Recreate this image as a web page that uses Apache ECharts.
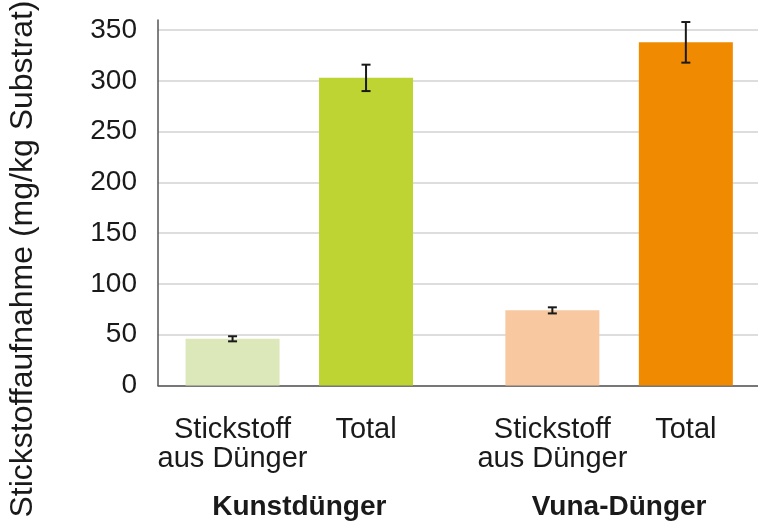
<!DOCTYPE html>
<html>
<head>
<meta charset="utf-8">
<script src="https://cdn.jsdelivr.net/npm/echarts@6/dist/echarts.min.js"></script>
<style>
  html, body { margin: 0; padding: 0; background: #fff; }
  #chart { width: 758px; height: 523px; }
</style>
</head>
<body>
<div id="chart"></div>
<script>
// Daten
const groups = ['Kunstdünger', 'Vuna-Dünger'];
const seriesNames = ['Stickstoff\naus Dünger', 'Total'];
const fromFertilizer = [46, 74];
const fromFertilizerErr = [2.5, 3];
const total = [303, 338];
const totalErr = [13, 20];
const yMax = 360;
const yStep = 50;

const barColors = [
  ['#dce8ba', '#bdd432'],
  ['#f8c8a0', '#f08a00']
];

const FONT = 'Liberation Sans, Arial, sans-serif';
const TEXT = '#1a1a1a';
const BAR_W = 94;
const BAR_GAP = 0.42;
// half the distance between the two bar centres in one group
const HALF = (BAR_W + BAR_W * BAR_GAP) / 2;

const chart = echarts.init(document.getElementById('chart'));

function errorSeries(values, errs, side) {
  return {
    type: 'custom',
    xAxisIndex: 1,
    yAxisIndex: 1,
    z: 5,
    clip: false,
    silent: true,
    data: values.map((v, i) => [i, v - errs[i], v + errs[i]]),
    renderItem: function (params, api) {
      const lo = api.coord([api.value(0), api.value(1)]);
      const hi = api.coord([api.value(0), api.value(2)]);
      const x = lo[0] + side * HALF;
      const cap = 4.5;
      const style = { stroke: '#1a1a1a', lineWidth: 2 };
      return {
        type: 'group',
        children: [
          { type: 'line', shape: { x1: x, y1: lo[1], x2: x, y2: hi[1] }, style: style },
          { type: 'line', shape: { x1: x - cap, y1: lo[1], x2: x + cap, y2: lo[1] }, style: style },
          { type: 'line', shape: { x1: x - cap, y1: hi[1], x2: x + cap, y2: hi[1] }, style: style }
        ]
      };
    }
  };
}

function barSeries(name, values, colIdx) {
  return {
    name: name,
    type: 'bar',
    xAxisIndex: 1,
    yAxisIndex: 1,
    barWidth: BAR_W,
    barGap: (BAR_GAP * 100) + '%',
    data: values.map((v, i) => ({ value: v, itemStyle: { color: barColors[i][colIdx] } })),
    label: {
      show: true,
      position: 'insideBottom',
      distance: 0,
      offset: [0, 30],
      verticalAlign: 'top',
      formatter: '{a}',
      color: TEXT,
      textBorderWidth: 0,
      fontFamily: FONT,
      fontSize: 29,
      lineHeight: 29
    }
  };
}

const option = {
  animation: false,
  textStyle: { fontFamily: FONT },
  grid: [
    { left: 158, right: 0, top: 20, bottom: 137.5, outerBoundsMode: 'none' },
    { left: 139.4, width: 639.6, top: 20, bottom: 137.5, outerBoundsMode: 'none' }
  ],
  xAxis: [
    {
      gridIndex: 0,
      type: 'category',
      data: groups,
      axisLine: { show: true, lineStyle: { color: '#555', width: 1.5 } },
      axisTick: { show: false },
      axisLabel: { show: false }
    },
    {
      gridIndex: 1,
      type: 'category',
      data: groups,
      axisLine: { show: false },
      axisTick: { show: false },
      axisLabel: {
        margin: 108,
        color: TEXT,
        fontFamily: FONT,
        fontSize: 28,
        fontWeight: 'bold'
      }
    }
  ],
  yAxis: [
    {
      gridIndex: 0,
      type: 'value',
      min: 0,
      max: yMax,
      interval: yStep,
      axisLine: { show: true, lineStyle: { color: '#555', width: 1.5 } },
      axisTick: { show: false },
      axisLabel: {
        showMaxLabel: false,
        margin: 21,
        color: TEXT,
        fontFamily: FONT,
        fontSize: 28
      },
      splitLine: { show: true, showMaxLine: false, lineStyle: { color: '#d2d2d2', width: 1.5 } }
    },
    {
      gridIndex: 1,
      type: 'value',
      min: 0,
      max: yMax,
      interval: yStep,
      show: false,
      splitLine: { show: false }
    }
  ],
  graphic: [
    {
      type: 'text',
      x: 23,
      y: 259,
      rotation: Math.PI / 2,
      style: {
        text: 'Stickstoffaufnahme (mg/kg Substrat)',
        fontFamily: FONT,
        fontSize: 32,
        fill: TEXT,
        textAlign: 'center',
        textVerticalAlign: 'middle'
      }
    }
  ],
  series: [
    barSeries(seriesNames[0], fromFertilizer, 0),
    barSeries(seriesNames[1], total, 1),
    errorSeries(fromFertilizer, fromFertilizerErr, -1),
    errorSeries(total, totalErr, 1)
  ]
};

chart.setOption(option);
</script>
</body>
</html>
